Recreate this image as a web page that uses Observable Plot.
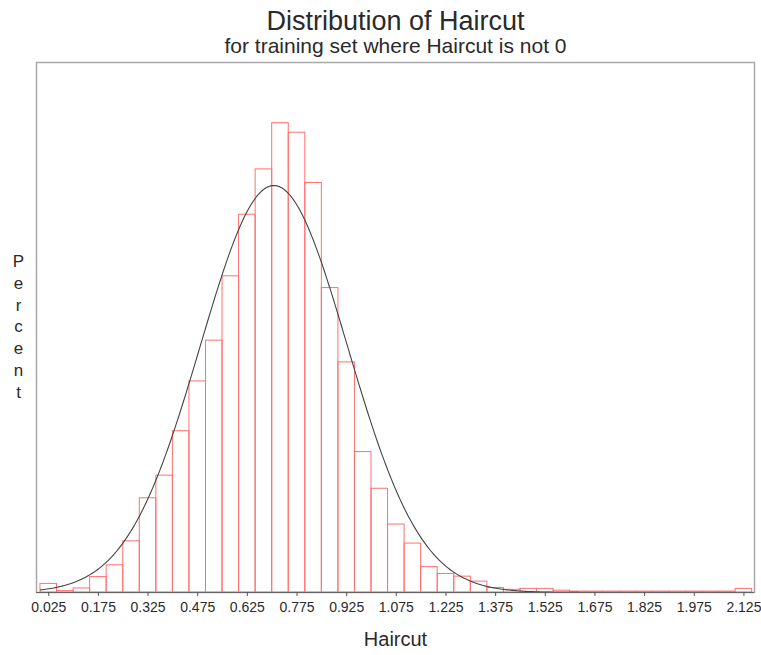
<!DOCTYPE html>
<html>
<head>
<meta charset="utf-8">
<script src="https://cdn.jsdelivr.net/npm/d3@7"></script>
<script src="https://cdn.jsdelivr.net/npm/@observablehq/plot@0.6"></script>
<style>
  html, body { margin: 0; padding: 0; background: #fff; }
</style>
</head>
<body>
<div id="chart"></div>
<script>
// ---- data ----
const titleText = "Distribution of Haircut";
const subtitleText = "for training set where Haircut is not 0";
const xLabel = "Haircut";
const yLabel = "Percent";

const binWidth = 0.05;
const binStarts = [0, 0.05, 0.1, 0.15, 0.2, 0.25, 0.3, 0.35, 0.4, 0.45,
  0.5, 0.55, 0.6, 0.65, 0.7, 0.75, 0.8, 0.85, 0.9, 0.95,
  1.0, 1.05, 1.1, 1.15, 1.2, 1.25, 1.3, 1.35, 1.4, 1.45,
  1.5, 1.55, 1.6, 1.65, 1.7, 1.75, 1.8, 1.85, 1.9, 1.95,
  2.0, 2.05, 2.1];
const percents = [0.19, 0.03, 0.09, 0.34, 0.60, 1.13, 2.08, 2.58, 3.56, 4.66,
  5.56, 6.98, 8.34, 9.34, 10.36, 10.15, 9.04, 6.72, 5.08, 3.10,
  2.29, 1.50, 1.08, 0.56, 0.41, 0.35, 0.24, 0.10, 0.06, 0.08,
  0.08, 0.04, 0.02, 0.02, 0.02, 0.02, 0.02, 0.02, 0.02, 0.02,
  0.02, 0.02, 0.08];

// fitted normal curve parameters
const normalMean = 0.705;
const normalSD = 0.222;

const tickValues = [0.025, 0.175, 0.325, 0.475, 0.625, 0.775, 0.925, 1.075,
  1.225, 1.375, 1.525, 1.675, 1.825, 1.975, 2.125];
const tickLabels = ["0.025", "0.175", "0.325", "0.475", "0.625", "0.775", "0.925", "1.075",
  "1.225", "1.375", "1.525", "1.675", "1.825", "1.975", "2.125"];

// ---- build tables ----
const bins = binStarts.map((s, i) => ({x1: s, x2: s + binWidth, pct: percents[i]}));
const curve = d3.range(0, 2.1501, 0.005).map(v => ({
  x: v,
  y: 100 * binWidth * Math.exp(-((v - normalMean) ** 2) / (2 * normalSD ** 2)) / (normalSD * Math.sqrt(2 * Math.PI))
}));

const font = "'Liberation Sans', Arial, Helvetica, sans-serif";

const chart = Plot.plot({
  width: 761,
  height: 655,
  marginTop: 62,
  marginBottom: 63,
  marginLeft: 36,
  marginRight: 7,
  style: {fontFamily: font, fontSize: "14px", color: "#333", background: "#fff"},
  x: {domain: [-0.012, 2.157], axis: null},
  y: {domain: [0, 11.7], axis: null},
  marks: [
    Plot.frame({stroke: "#a8a8a8", strokeWidth: 1.5}),
    Plot.rectY(bins, {x1: "x1", x2: "x2", y: "pct", fill: "none", stroke: "#ff7070", strokeWidth: 1}),
    Plot.line(curve, {x: "x", y: "y", stroke: "#444", strokeWidth: 1.1}),
    Plot.ruleY([0], {stroke: "#666", strokeWidth: 1.2}),
    Plot.axisX({
      ticks: tickValues,
      tickFormat: (d, i) => tickLabels[i],
      tickSize: 4,
      tickPadding: 6,
      fontSize: 14,
      stroke: "#555",
      fill: "#2a2a2a",
      label: null
    }),
    Plot.text([titleText], {frameAnchor: "top", dy: -41, fontSize: 27, fill: "#2a2a2a", lineAnchor: "middle"}),
    Plot.text([subtitleText], {frameAnchor: "top", dy: -16, fontSize: 21, fill: "#2a2a2a", lineAnchor: "middle"}),
    Plot.text([xLabel], {frameAnchor: "bottom", dy: 47, fontSize: 20, fill: "#2a2a2a", lineAnchor: "middle"}),
    Plot.text([yLabel.split("").join("\n")], {frameAnchor: "left", dx: -18, dy: -2, fontSize: 17, lineHeight: 1.28, fill: "#2a2a2a", lineAnchor: "middle", textAnchor: "middle"})
  ]
});

document.getElementById("chart").appendChild(chart);
</script>
</body>
</html>
